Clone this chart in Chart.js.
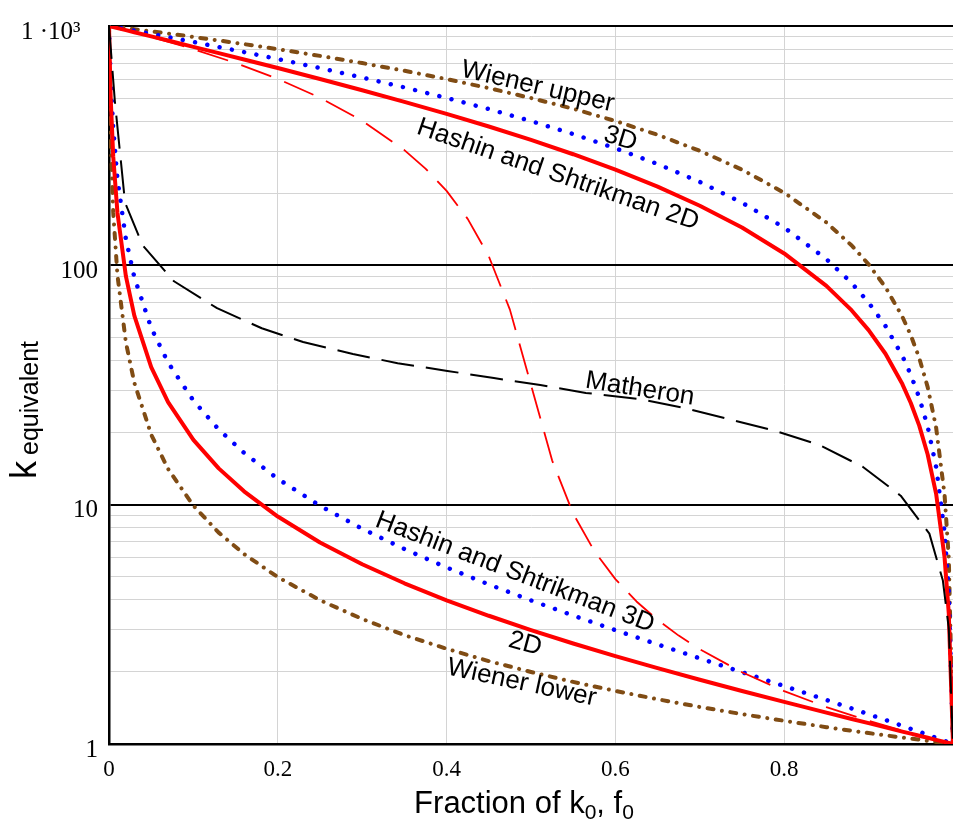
<!DOCTYPE html>
<html>
<head>
<meta charset="utf-8">
<title>Effective conductivity of a two-phase medium</title>
<script src="https://cdn.jsdelivr.net/npm/chart.js@4.4.0/dist/chart.umd.min.js"></script>
<style>
  html, body { margin: 0; padding: 0; background: #fff; }
  #wrap { width: 953px; height: 830px; position: relative; }
</style>
</head>
<body>
<div id="wrap"><canvas id="chart"></canvas></div>
<script>
// volume fraction of phase k0 (k0 = 1, k1 = 1000)
const fracBounds = [0, 0.002, 0.005, 0.01, 0.02, 0.03, 0.05, 0.07, 0.1, 0.13, 0.16, 0.2, 0.25, 0.3, 0.35, 0.4, 0.45, 0.5,
  0.55, 0.6, 0.65, 0.7, 0.75, 0.8, 0.85, 0.88, 0.9, 0.92, 0.94, 0.95, 0.96, 0.97, 0.98, 0.99, 0.995, 1];

const wienerUpper = [1000, 998, 995, 990, 980, 970, 950, 930, 900, 870, 840, 800, 750, 700, 650, 600, 550, 500,
  451, 401, 351, 301, 251, 201, 151, 121, 101, 81, 61, 51, 41, 31, 21, 11, 6, 1];
const wienerLower = [1000, 333.6, 166.8, 91.0, 47.7, 32.3, 19.63, 14.10, 9.91, 7.64, 6.22, 4.98, 3.99, 3.33, 2.85, 2.50, 2.22, 2.00,
  1.817, 1.666, 1.538, 1.428, 1.333, 1.250, 1.176, 1.136, 1.111, 1.087, 1.064, 1.053, 1.042, 1.031, 1.020, 1.010, 1.005, 1];
const hs2dUpper = [1000, 996.0, 990.1, 980.2, 960.9, 941.9, 904.9, 869.4, 818.5, 770.3, 724.6, 667.2, 600.6, 539.2, 482.2, 429.4, 380.2, 334.2,
  291.2, 250.9, 213.1, 177.4, 143.8, 112.1, 82.1, 64.8, 53.6, 42.7, 31.9, 26.6, 21.4, 16.2, 11.1, 6.03, 3.51, 1];
const hs3dUpper = [1000, 997.0, 992.5, 985.1, 970.3, 955.7, 926.9, 898.7, 857.3, 817.2, 778.1, 727.6, 667.1, 609.2, 553.8, 500.6, 449.7, 400.7,
  353.7, 308.5, 265.0, 223.1, 182.7, 143.8, 106.2, 84.3, 69.9, 55.8, 41.8, 34.9, 28.0, 21.2, 14.4, 7.69, 4.34, 1];
const hs2dLower = [1000, 499.8, 285.2, 166.0, 90.08, 61.62, 37.54, 26.83, 18.65, 14.18, 11.37, 8.92, 6.95, 5.636, 4.693, 3.985, 3.434, 2.992,
  2.630, 2.329, 2.074, 1.855, 1.665, 1.499, 1.352, 1.272, 1.222, 1.174, 1.127, 1.105, 1.083, 1.062, 1.041, 1.020, 1.010, 1];
const hs3dLower = [1000, 599.4, 374.0, 229.4, 128.8, 89.17, 54.77, 39.22, 27.21, 20.62, 16.46, 12.82, 9.893, 7.931, 6.524, 5.466, 4.642, 3.982,
  3.441, 2.990, 2.608, 2.280, 1.996, 1.747, 1.528, 1.408, 1.332, 1.260, 1.191, 1.157, 1.125, 1.093, 1.061, 1.030, 1.015, 1];

const fracMatheron = [0, 0.007, 0.019, 0.04, 0.077, 0.128, 0.181, 0.23, 0.289, 0.342, 0.401, 0.456, 0.511,
  0.565, 0.63, 0.68, 0.734, 0.79, 0.841, 0.893, 0.938, 0.972, 0.988, 0.995, 0.998, 1];
const matheron = [1000, 482, 183, 121, 85.8, 66.2, 54.6, 47.8, 42.6, 39.0, 36.2, 33.8, 31.6,
  29.3, 27.6, 25.4, 22.8, 20.3, 17.8, 14.4, 10.9, 7.57, 4.82, 3.04, 1.53, 1];

// self-consistent (effective medium) estimate
const fracEMA = [0, 0.01, 0.02, 0.05, 0.1, 0.15, 0.2, 0.25, 0.3, 0.35, 0.375, 0.4, 0.425, 0.45, 0.475,
  0.5, 0.525, 0.55, 0.575, 0.6, 0.625, 0.65, 0.675, 0.7, 0.75, 0.8, 0.85, 0.9, 0.95, 1];
const ema = [1000, 980.0, 960.1, 900.2, 800.5, 700.7, 601.1, 501.5, 402.1, 303.0, 253.7, 204.7, 156.3, 109.1, 65.3,
  31.62, 15.32, 9.17, 6.40, 4.885, 3.94, 3.30, 2.837, 2.487, 1.994, 1.664, 1.427, 1.249, 1.111, 1];

const xTicks = [0, 0.2, 0.4, 0.6, 0.8];
const xTickLabels = ["0", "0.2", "0.4", "0.6", "0.8"];
const yGrid = [1, 2, 3, 4, 5, 6, 7, 8, 9, 10, 20, 30, 40, 50, 60, 70, 80, 90,
  100, 200, 300, 400, 500, 600, 700, 800, 900, 1000];
const yMajor = [1, 10, 100, 1000];
const yMajorLabels = ["1", "10", "100", "1 \u00b710\u00b3\u2002\u2009"];

// curve names, placed in data coordinates
const curveNames = ["Wiener upper", "3D", "Hashin and Shtrikman 2D", "Matheron",
  "Hashin and Shtrikman 3D", "2D", "Wiener lower"];
const nameFrac = [0.508, 0.606, 0.532, 0.629, 0.481, 0.493, 0.489];
const nameK = [557, 338, 239, 30.4, 5.21, 2.62, 1.80];
const nameAngle = [13, 17, 19, 9, 21, 15, 12];

const BROWN = "#804c14";
const SANS = '"Liberation Sans", Arial, sans-serif';
const SERIF = '"Liberation Serif", "Times New Roman", serif';

function pts(fr, vals) {
  return fr.map((f, i) => ({ x: f, y: vals[i] }));
}

function brown(data) {
  return { data, borderColor: BROWN, borderWidth: 4, borderCapStyle: "round", borderDash: [6, 8.5, 0.01, 8.5] };
}
function blue(data) {
  return { data, borderColor: "#0000ff", borderWidth: 4.5, borderCapStyle: "round", borderDash: [0.01, 12.5] };
}
function red(data) {
  return { data, borderColor: "#ff0000", borderWidth: 4 };
}

const curveNamesPlugin = {
  id: "curveNames",
  afterDatasetsDraw(chart) {
    const { ctx } = chart;
    const x = chart.scales.x, y = chart.scales.y;
    ctx.save();
    ctx.fillStyle = "#000";
    ctx.font = "26px " + SANS;
    ctx.textAlign = "center";
    ctx.textBaseline = "middle";
    curveNames.forEach((name, i) => {
      ctx.save();
      ctx.translate(x.getPixelForValue(nameFrac[i]), y.getPixelForValue(nameK[i]));
      ctx.rotate(nameAngle[i] * Math.PI / 180);
      ctx.fillText(name, 0, 0);
      ctx.restore();
    });
    ctx.restore();
  }
};

// text runs with subscripts: [text, size, baseline shift]
function drawRuns(ctx, runs, x0, y0) {
  let x = x0;
  runs.forEach(([t, size, dy]) => {
    ctx.font = size + "px " + SANS;
    ctx.fillText(t, x, y0 + dy);
    x += ctx.measureText(t).width;
  });
}
function runsWidth(ctx, runs) {
  let w = 0;
  runs.forEach(([t, size]) => {
    ctx.font = size + "px " + SANS;
    w += ctx.measureText(t).width;
  });
  return w;
}

const axisTitles = {
  id: "axisTitles",
  afterDraw(chart) {
    const { ctx } = chart;
    ctx.save();
    ctx.fillStyle = "#000";
    ctx.textAlign = "left";
    ctx.textBaseline = "alphabetic";

    const xRuns = [["Fraction of k", 31, 0], ["0", 21, 6], [", f", 31, 0], ["0", 21, 6]];
    drawRuns(ctx, xRuns, 524 - runsWidth(ctx, xRuns) / 2, 813);

    ctx.translate(36, 479);
    ctx.rotate(-Math.PI / 2);
    ctx.font = "36px " + SANS;
    ctx.fillText("k", 0, 0);
    const kw = ctx.measureText("k").width;
    ctx.font = "25px " + SANS;
    ctx.fillText("equivalent", kw + 6, 2);
    ctx.restore();
  }
};

const ctx = document.getElementById("chart").getContext("2d");

const chart = new Chart(ctx, {
  type: "line",
  data: {
    datasets: [
      { data: pts(fracMatheron, matheron), borderColor: "#000", borderWidth: 2, borderDash: [33, 12] },
      { data: pts(fracEMA, ema), borderColor: "#ff0000", borderWidth: 1.8, borderDash: [32, 14] },
      red(pts(fracBounds, hs2dUpper)),
      red(pts(fracBounds, hs2dLower)),
      blue(pts(fracBounds, hs3dUpper)),
      blue(pts(fracBounds, hs3dLower)),
      brown(pts(fracBounds, wienerUpper)),
      brown(pts(fracBounds, wienerLower)),
    ],
  },
  options: {
    responsive: true,
    maintainAspectRatio: false,
    animation: false,
    devicePixelRatio: 1,
    layout: { padding: { top: 24, right: 0, bottom: 0, left: 0 } },
    elements: { point: { radius: 0 }, line: { tension: 0, borderJoinStyle: "round", fill: false } },
    plugins: { legend: { display: false }, tooltip: { enabled: false } },
    scales: {
      x: {
        type: "linear",
        min: 0,
        max: 1,
        afterBuildTicks: s => { s.ticks = xTicks.map(v => ({ value: v })); },
        afterFit: s => { s.height = 86; },
        grid: {
          drawTicks: false,
          lineWidth: 1,
          color: c => (c.tick && c.tick.value === 0 ? "rgba(0,0,0,0)" : "#d4d4d4"),
        },
        border: { color: "#000", width: 2.5 },
        ticks: {
          autoSkip: false,
          maxRotation: 0,
          padding: 12,
          color: "#000",
          font: { family: SERIF, size: 23 },
          callback: v => xTickLabels[xTicks.indexOf(v)],
        },
      },
      y: {
        type: "logarithmic",
        min: 1,
        max: 1000,
        afterBuildTicks: s => { s.ticks = yGrid.map(v => ({ value: v })); },
        afterFit: s => { s.width = 109; },
        grid: {
          drawTicks: false,
          color: c => (c.tick && yMajor.includes(c.tick.value) ? "#000" : "#d4d4d4"),
          lineWidth: c => (c.tick && yMajor.includes(c.tick.value) ? 2 : 1),
        },
        border: { color: "#000", width: 2.5 },
        ticks: {
          autoSkip: false,
          padding: 11,
          labelOffset: 6,
          color: "#000",
          font: { family: SERIF, size: 25 },
          callback: v => {
            const i = yMajor.indexOf(v);
            return i >= 0 ? yMajorLabels[i] : "";
          },
        },
      },
    },
  },
  plugins: [curveNamesPlugin, axisTitles],
});
</script>
</body>
</html>
